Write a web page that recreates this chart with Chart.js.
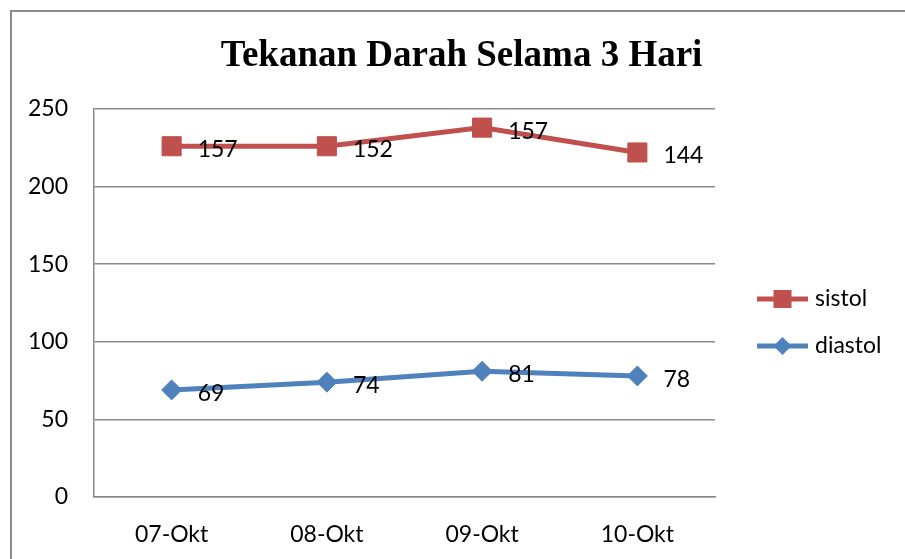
<!DOCTYPE html>
<html>
<head>
<meta charset="utf-8">
<script src="https://cdn.jsdelivr.net/npm/chart.js@4"></script>
<style>
  html, body { margin: 0; padding: 0; background: #fff; }
  #wrap { width: 905px; height: 559px; }
</style>
</head>
<body>
<div id="wrap"><canvas id="c" width="905" height="559"></canvas></div>
<script>
const categories = ['07-Okt', '08-Okt', '09-Okt', '10-Okt'];
const diastolValues = [69, 74, 81, 78];
const sistolValues = [157, 152, 157, 144];
const seriesNames = ['diastol', 'sistol'];
const titleText = 'Tekanan Darah Selama 3 Hari';

const RED = '#C0504D';
const BLUE = '#4F81BD';
const GRID = '#8a8a8a';
const FONT = 'Lato';
const FS = 23;

const framePlugin = {
  id: 'frame',
  beforeDraw(chart) {
    const ctx = chart.ctx;
    ctx.save();
    ctx.fillStyle = '#fff';
    ctx.fillRect(0, 0, chart.width, chart.height);
    ctx.strokeStyle = '#8c8c8c';
    ctx.lineWidth = 2;
    ctx.strokeRect(11, 11, chart.width + 20, chart.height + 20);
    ctx.restore();
  }
};

const labelPlugin = {
  id: 'valueLabels',
  afterDatasetsDraw(chart) {
    const ctx = chart.ctx;
    ctx.save();
    ctx.font = FS + 'px ' + FONT;
    ctx.fillStyle = '#000';
    ctx.textAlign = 'left';
    ctx.textBaseline = 'alphabetic';
    chart.data.datasets.forEach((ds, i) => {
      const meta = chart.getDatasetMeta(i);
      meta.data.forEach((pt, j) => {
        ctx.fillText(String(ds.data[j]), pt.x + 26, pt.y + 11);
      });
    });
    ctx.restore();
  }
};

const legendPlugin = {
  id: 'customLegend',
  afterDraw(chart) {
    const ctx = chart.ctx;
    const area = chart.chartArea;
    const x0 = area.right + 42;
    const yMid = (area.top + area.bottom) / 2;
    const items = chart.data.datasets.slice().reverse();
    ctx.save();
    items.forEach((ds, k) => {
      const y = yMid - 4 + k * 47;
      ctx.strokeStyle = ds.borderColor;
      ctx.lineWidth = 5;
      ctx.beginPath();
      ctx.moveTo(x0, y);
      ctx.lineTo(x0 + 51, y);
      ctx.stroke();
      ctx.fillStyle = ds.pointBackgroundColor;
      const cx = x0 + 25.5;
      if (ds.pointStyle === 'rect') {
        ctx.fillRect(cx - 9, y - 9, 18, 18);
      } else {
        ctx.beginPath();
        ctx.moveTo(cx - 9, y);
        ctx.lineTo(cx, y - 9);
        ctx.lineTo(cx + 9, y);
        ctx.lineTo(cx, y + 9);
        ctx.closePath();
        ctx.fill();
      }
      ctx.fillStyle = '#000';
      ctx.font = FS + 'px ' + FONT;
      ctx.textAlign = 'left';
      ctx.textBaseline = 'middle';
      ctx.fillText(ds.label, x0 + 58, y);
    });
    ctx.restore();
  }
};

new Chart(document.getElementById('c'), {
  type: 'line',
  data: {
    labels: categories,
    datasets: [
      {
        label: seriesNames[0],
        data: diastolValues,
        borderColor: BLUE,
        backgroundColor: BLUE,
        pointBackgroundColor: BLUE,
        pointBorderColor: BLUE,
        pointStyle: 'rectRot',
        pointRadius: 10,
        pointBorderWidth: 1,
        borderWidth: 5,
        tension: 0,
        fill: false
      },
      {
        label: seriesNames[1],
        data: sistolValues,
        borderColor: RED,
        backgroundColor: RED,
        pointBackgroundColor: RED,
        pointBorderColor: RED,
        pointStyle: 'rect',
        pointRadius: 13.5,
        pointBorderWidth: 1,
        borderWidth: 5,
        tension: 0,
        fill: false
      }
    ]
  },
  options: {
    responsive: false,
    animation: false,
    devicePixelRatio: 1,
    layout: { padding: { left: 18, top: 0, right: 0, bottom: 0 } },
    plugins: {
      legend: { display: false },
      tooltip: { enabled: false },
      title: {
        display: true,
        text: titleText,
        color: '#000',
        font: { family: 'Liberation Serif', size: 37, weight: 'bold', lineHeight: 1.2 },
        padding: { top: 34, bottom: 30.6 }
      }
    },
    scales: {
      x: {
        type: 'category',
        offset: true,
        grid: { display: false, drawTicks: false },
        border: { display: true, color: GRID, width: 1.5 },
        ticks: { color: '#000', font: { family: FONT, size: FS }, padding: 24, maxRotation: 0 },
        afterFit(s) { s.height = 62; }
      },
      y: {
        stacked: true,
        min: 0,
        max: 250,
        grid: { color: GRID, lineWidth: 1.5, drawTicks: false },
        border: { display: true, color: GRID, width: 1.5 },
        ticks: { stepSize: 50, color: '#000', font: { family: FONT, size: FS }, padding: 26 },
        afterFit(s) { s.width = 76; }
      },
      y2: {
        position: 'right',
        display: true,
        grid: { display: false, drawTicks: false },
        border: { display: false },
        ticks: { display: false },
        afterFit(s) { s.width = 190; }
      }
    }
  },
  plugins: [framePlugin, labelPlugin, legendPlugin]
});
</script>
</body>
</html>
